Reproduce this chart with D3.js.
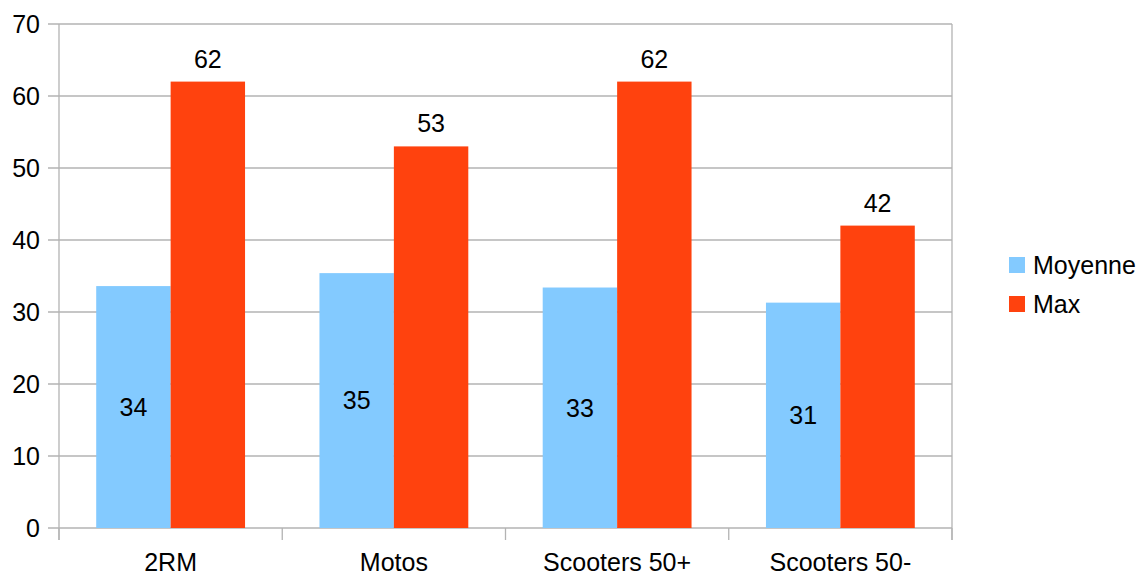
<!DOCTYPE html>
<html>
<head>
<meta charset="utf-8">
<script src="https://cdn.jsdelivr.net/npm/d3@7"></script>
<style>
  html, body { margin: 0; padding: 0; background: #fff; }
  svg { display: block; font-family: "Liberation Sans", Arial, sans-serif; }
</style>
</head>
<body>
<svg id="chart" width="1142" height="576"></svg>
<script>
const categories = ["2RM", "Motos", "Scooters 50+", "Scooters 50-"];
const seriesNames = ["Moyenne", "Max"];
const moyenne = [33.6, 35.4, 33.4, 31.3];
const maxVals = [62, 53, 62, 42];
const moyenneLabels = ["34", "35", "33", "31"];
const maxLabels = ["62", "53", "62", "42"];
const yTicks = [0, 10, 20, 30, 40, 50, 60, 70];
const colors = ["#83caff", "#ff420e"];

const svg = d3.select("#chart");
const L = 59, R = 952, T = 24, B = 528;
const gridColor = "#b3b3b3";
const fs = 25;

const x = d3.scaleBand().domain(categories).range([L, R]).paddingInner(0).paddingOuter(0);
const xs = d3.scaleBand().domain(seriesNames).range([0, x.bandwidth()]).paddingInner(0).paddingOuter(0.5);
const y = d3.scaleLinear().domain([0, 70]).range([B, T]);

// gridlines
svg.append("g").selectAll("line").data(yTicks).join("line")
  .attr("x1", L - 11).attr("x2", R)
  .attr("y1", d => y(d)).attr("y2", d => y(d))
  .attr("stroke", gridColor).attr("stroke-width", 1.3);

// y axis line
svg.append("line").attr("x1", L).attr("x2", L).attr("y1", T).attr("y2", B + 12)
  .attr("stroke", gridColor).attr("stroke-width", 1.3);
// right border
svg.append("line").attr("x1", R).attr("x2", R).attr("y1", T).attr("y2", B + 12)
  .attr("stroke", gridColor).attr("stroke-width", 1.3);

// category ticks
const bounds = categories.map(c => x(c)).concat([R]);
svg.append("g").selectAll("line").data(bounds).join("line")
  .attr("x1", d => d).attr("x2", d => d)
  .attr("y1", B).attr("y2", B + 12)
  .attr("stroke", gridColor).attr("stroke-width", 1.3);

// y tick labels
svg.append("g").selectAll("text").data(yTicks).join("text")
  .attr("x", 40).attr("y", d => y(d))
  .attr("dy", "0.35em")
  .attr("text-anchor", "end")
  .attr("font-size", fs).attr("fill", "#000")
  .text(d => d);

// x labels
svg.append("g").selectAll("text").data(categories).join("text")
  .attr("x", d => x(d) + x.bandwidth() / 2).attr("y", 571)
  .attr("text-anchor", "middle")
  .attr("font-size", fs).attr("fill", "#000")
  .text(d => d);

// bars
const series = [moyenne, maxVals];
series.forEach((vals, si) => {
  svg.append("g").selectAll("rect").data(categories).join("rect")
    .attr("x", c => x(c) + xs(seriesNames[si]))
    .attr("width", xs.bandwidth())
    .attr("y", (c, i) => y(vals[i]))
    .attr("height", (c, i) => B - y(vals[i]))
    .attr("fill", colors[si]);
});

// labels: Moyenne centered inside bar
svg.append("g").selectAll("text").data(categories).join("text")
  .attr("x", c => x(c) + xs("Moyenne") + xs.bandwidth() / 2)
  .attr("y", (c, i) => (y(moyenne[i]) + B) / 2)
  .attr("dy", "0.35em")
  .attr("text-anchor", "middle")
  .attr("font-size", fs).attr("fill", "#000")
  .text((c, i) => moyenneLabels[i]);

// labels: Max above bar
svg.append("g").selectAll("text").data(categories).join("text")
  .attr("x", c => x(c) + xs("Max") + xs.bandwidth() / 2)
  .attr("y", (c, i) => y(maxVals[i]) - 14)
  .attr("text-anchor", "middle")
  .attr("font-size", fs).attr("fill", "#000")
  .text((c, i) => maxLabels[i]);

// legend
const lg = svg.append("g");
seriesNames.forEach((n, i) => {
  const yy = 257 + i * 39;
  lg.append("rect").attr("x", 1009).attr("y", yy).attr("width", 16).attr("height", 16).attr("fill", colors[i]);
  lg.append("text").attr("x", 1033).attr("y", yy + 17)
    .attr("font-size", fs).attr("fill", "#000").text(n);
});
</script>
</body>
</html>
